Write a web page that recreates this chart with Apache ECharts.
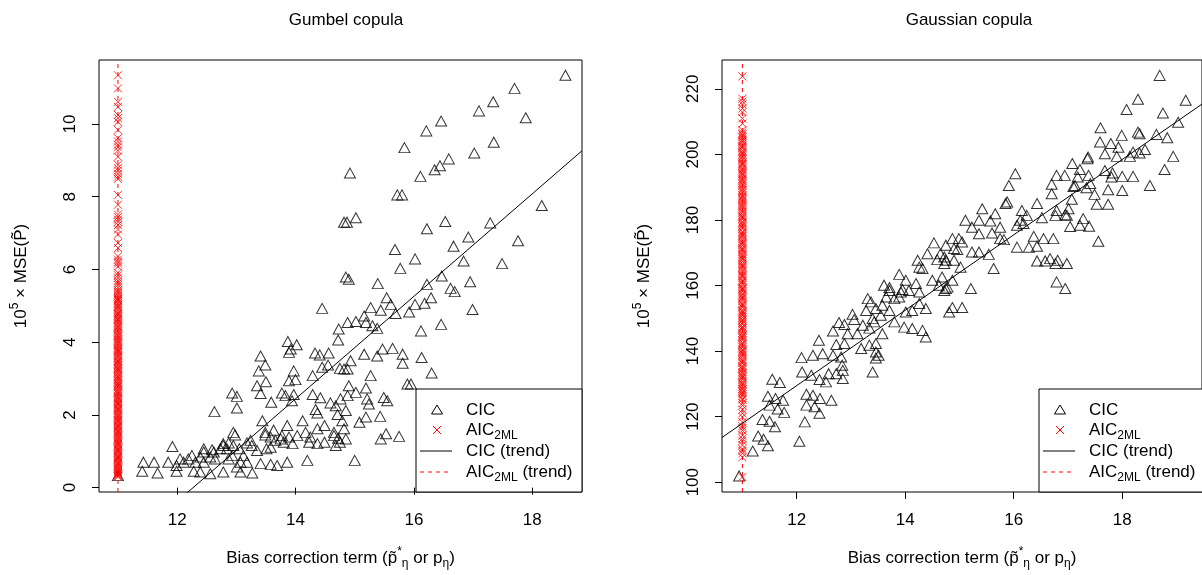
<!DOCTYPE html>
<html>
<head>
<meta charset="utf-8">
<script src="https://cdn.jsdelivr.net/npm/echarts@6.0.0/dist/echarts.min.js"></script>
<style>
html, body { margin: 0; padding: 0; background: #fff; }
#main { width: 1202px; height: 575px; }
</style>
</head>
<body>
<div id="main"></div>
<script>
// bias correction term of AIC2ML is constant
var aicTerm = 11;
var xTicks = [12, 14, 16, 18];
var gumbelYTicks = [0, 2, 4, 6, 8, 10];
var gaussianYTicks = [100, 120, 140, 160, 180, 200, 220];

// Gumbel copula: CIC points [bias term, 1e5 x MSE]
var gumbelCic = [
    [11.0,0.33],[11.43,0.70],[11.41,0.45],[11.61,0.70],[11.67,0.40],[11.85,0.70],[11.92,1.13],
    [11.99,0.61],[11.99,0.45],[12.05,0.79],[12.11,0.70],[12.19,0.79],[12.25,0.88],[12.28,0.45],
    [12.31,0.70],[12.39,0.84],[12.39,0.43],[12.45,0.98],[12.45,0.70],[12.45,1.07],[12.56,0.84],
    [12.56,0.38],[12.59,1.04],[12.62,0.98],[12.64,0.79],[12.63,2.09],[12.73,1.07],[12.78,1.16],
    [12.78,1.21],[12.78,0.43],[12.84,1.07],[12.87,1.23],[12.87,0.79],[12.93,0.88],[12.93,2.60],
    [12.95,1.16],[12.95,1.52],[12.98,1.45],[13.01,2.51],[13.01,2.19],[13.01,0.57],[13.05,1.07],
    [13.07,0.70],[13.07,0.43],[13.12,0.88],[13.18,1.23],[13.18,0.70],[13.24,1.30],[13.26,1.16],
    [13.27,0.40],[13.35,1.02],[13.35,2.80],[13.38,3.21],[13.41,3.62],[13.41,2.59],[13.41,0.66],
    [13.44,1.84],[13.49,1.45],[13.49,1.52],[13.49,3.37],[13.50,2.91],[13.51,1.07],[13.58,1.11],
    [13.58,1.39],[13.58,0.64],[13.59,2.35],[13.63,1.58],[13.66,1.30],[13.69,0.61],[13.75,1.34],
    [13.77,2.60],[13.77,1.43],[13.80,1.25],[13.83,2.53],[13.86,1.71],[13.86,0.70],[13.87,4.02],
    [13.89,3.72],[13.89,2.94],[13.89,1.39],[13.92,3.81],[13.94,2.39],[13.95,1.21],[13.97,3.21],
    [13.97,2.56],[14.00,2.97],[14.02,3.93],[14.03,1.43],[14.12,1.84],[14.17,1.52],[14.20,0.75],
    [14.23,1.25],[14.25,1.39],[14.29,3.08],[14.29,2.56],[14.33,3.70],[14.34,2.15],[14.37,2.05],
    [14.37,1.62],[14.37,1.21],[14.41,3.65],[14.42,2.47],[14.45,4.93],[14.45,3.31],[14.49,1.71],
    [14.49,1.25],[14.55,3.37],[14.56,3.70],[14.59,2.33],[14.65,1.52],[14.65,1.43],[14.68,2.25],
    [14.68,1.16],[14.71,2.01],[14.72,4.06],[14.72,1.36],[14.73,4.36],[14.75,3.28],[14.75,1.25],
    [14.76,2.44],[14.79,1.84],[14.82,7.30],[14.82,3.26],[14.82,1.62],[14.85,5.79],[14.85,2.12],
    [14.85,1.34],[14.87,7.30],[14.88,4.54],[14.88,3.26],[14.88,2.53],[14.90,5.73],[14.90,2.80],
    [14.92,8.65],[14.93,3.49],[15.00,0.75],[15.02,7.42],[15.02,4.57],[15.02,2.62],[15.08,1.80],
    [15.16,4.72],[15.16,3.67],[15.19,4.54],[15.19,2.74],[15.19,1.94],[15.21,2.44],[15.24,2.30],
    [15.27,4.95],[15.27,3.08],[15.30,4.45],[15.38,4.38],[15.38,3.62],[15.39,5.61],[15.43,1.96],
    [15.44,4.88],[15.44,1.34],[15.47,3.81],[15.49,2.48],[15.53,1.48],[15.54,5.22],[15.55,2.39],
    [15.61,5.04],[15.64,3.83],[15.68,6.55],[15.69,4.79],[15.72,8.05],[15.75,1.41],[15.77,6.03],
    [15.80,8.05],[15.81,3.67],[15.81,3.42],[15.84,9.35],[15.89,2.85],[15.92,4.83],[15.95,2.85],
    [16.02,6.29],[16.02,5.04],[16.11,8.56],[16.12,4.31],[16.13,3.58],[16.18,5.07],[16.21,9.81],
    [16.22,7.12],[16.22,5.59],[16.29,5.22],[16.30,3.15],[16.35,8.74],[16.44,8.85],[16.46,10.08],
    [16.46,4.49],[16.47,5.82],[16.53,7.32],[16.59,9.04],[16.62,5.48],[16.67,6.64],[16.69,5.39],
    [16.84,6.23],[16.92,6.89],[16.95,5.66],[16.99,4.90],[17.02,9.20],[17.10,10.36],[17.29,7.28],
    [17.34,10.61],[17.35,9.50],[17.49,6.16],[17.70,10.98],[17.76,6.79],[17.89,10.17],[18.16,7.76],
    [18.56,11.34]
];

// Gumbel copula: AIC2ML values (all at bias term 11)
var gumbelAic = [
    11.34, 10.98, 10.61, 10.47, 10.25, 10.16, 10.06, 9.84, 9.61, 9.52, 9.43, 9.36, 9.27, 9.10,
    8.88, 8.79, 8.72, 8.63, 8.55, 8.49, 8.05, 7.78, 7.51, 7.44, 7.37, 7.31, 7.22, 7.10, 6.96,
    6.73, 6.59, 6.36, 6.27, 6.21, 6.16, 6.08, 5.91, 5.84, 5.77, 5.69, 5.63, 5.57, 5.50, 5.43,
    5.35, 5.27, 5.19, 5.13, 5.04, 4.97, 4.89, 4.80, 4.74, 4.66, 4.61, 4.52, 4.44, 4.38, 4.29,
    4.21, 4.16, 4.07, 4.01, 3.94, 3.85, 3.79, 3.73, 3.64, 3.58, 3.50, 3.45, 3.37, 3.29, 3.24,
    3.16, 3.08, 3.03, 2.95, 2.88, 2.81, 2.76, 2.67, 2.61, 2.53, 2.47, 2.40, 2.33, 2.27, 2.19,
    2.14, 2.06, 1.99, 1.93, 1.86, 1.80, 1.72, 1.66, 1.59, 1.53, 1.46, 1.40, 1.33, 1.27, 1.20,
    1.13, 1.07, 1.01, 0.94, 0.87, 0.81, 0.75, 0.68, 0.61, 0.55, 0.49, 0.43, 0.37, 0.32,
    5.39, 5.31, 5.22, 5.16, 5.08, 5.00, 4.93, 4.85, 4.77, 4.70, 4.63, 4.56, 4.48, 4.41, 4.33,
    4.25, 4.18, 4.11, 4.04, 3.97, 3.90, 3.82, 3.76, 3.69, 3.61, 3.55, 3.48, 3.41, 3.34, 3.27,
    3.20, 3.13, 3.06, 2.99, 2.92, 2.85, 2.79, 2.71, 2.64, 2.58, 2.50, 2.44, 2.37, 2.30, 2.23,
    2.17, 2.10, 2.03, 1.96, 1.90, 1.83, 1.76, 1.69, 1.63, 1.56, 1.49, 1.43, 1.36, 1.30, 1.23,
    1.17, 1.10, 1.04, 0.97, 0.91, 0.84, 0.78, 0.71, 0.65, 0.58, 0.52, 0.46, 0.40, 0.35, 0.30
];

// Gaussian copula: CIC points
var gaussianCic = [
    [10.94,101.9],[11.19,109.5],[11.29,114.1],[11.39,113.1],[11.47,111.1],[11.37,119.1],[11.50,118.6],
    [11.60,116.9],[11.50,123.5],[11.65,122.3],[11.77,121.3],[11.47,126.2],[11.61,125.5],[11.75,125.0],
    [11.55,131.4],[11.69,130.4],[12.05,112.5],[12.15,118.4],[12.18,126.8],[12.30,126.5],[12.43,125.5],
    [12.64,125.0],[12.18,123.5],[12.33,123.0],[12.42,121.0],[12.10,133.6],[12.27,132.6],[12.42,131.3],
    [12.54,130.6],[12.09,138.0],[12.30,138.7],[12.48,139.2],[12.67,138.7],[12.59,133.1],[12.73,133.1],
    [12.85,134.1],[12.85,131.6],[12.41,143.3],[12.67,146.1],[12.73,142.0],[12.88,142.3],[12.82,138.2],
    [12.84,135.7],[12.78,148.7],[12.88,148.1],[13.03,151.2],[13.06,149.6],[13.19,140.8],[13.34,141.8],
    [13.46,142.3],[13.40,133.6],[12.94,145.3],[13.12,145.3],[13.22,147.9],[13.34,147.0],[13.43,148.9],
    [13.58,145.3],[13.46,139.7],[13.51,138.7],[13.46,137.9],[13.28,152.4],[13.40,149.9],[13.55,150.9],
    [13.71,152.4],[13.80,148.9],[13.31,156.0],[13.37,155.0],[13.46,153.0],[13.58,154.0],[13.65,156.5],
    [13.98,147.3],[14.13,146.9],[14.32,146.3],[14.38,144.3],[13.80,156.0],[13.89,156.5],[14.01,151.9],
    [14.13,152.4],[14.26,154.5],[14.38,153.0],[13.71,158.5],[13.92,158.0],[14.07,158.5],[14.26,158.0],
    [14.53,173.0],[14.75,172.3],[14.41,169.7],[14.59,167.9],[14.75,167.7],[14.23,167.7],[14.26,165.6],
    [14.32,165.2],[13.89,163.4],[14.01,161.6],[14.20,160.6],[13.61,160.1],[13.71,159.4],[13.95,158.8],
    [14.50,161.6],[14.68,162.6],[14.62,160.1],[14.75,159.1],[14.81,151.9],[14.72,158.5],[14.87,153.3],
    [15.05,153.3],[18.69,224.1],[18.29,216.8],[19.17,216.5],[18.08,213.7],[18.75,212.6],[19.03,209.8],
    [17.60,208.1],[17.99,205.8],[18.29,206.8],[18.32,206.3],[17.59,203.8],[17.79,203.3],[17.93,202.2],
    [18.63,206.1],[18.83,205.1],[17.68,200.2],[17.90,199.4],[18.14,199.4],[18.20,200.7],[18.42,201.5],
    [18.32,200.4],[18.94,199.4],[18.78,195.4],[18.51,190.5],[17.36,198.7],[17.37,199.2],[17.08,197.2],
    [17.22,195.4],[17.68,195.1],[17.82,194.3],[17.80,193.1],[18.00,193.3],[18.20,193.3],[16.79,193.6],
    [16.94,193.6],[17.18,193.1],[17.38,193.6],[17.41,191.1],[16.70,190.9],[16.70,188.0],[17.10,190.2],
    [17.13,190.5],[17.34,189.8],[17.49,187.8],[17.53,184.8],[17.74,189.2],[17.74,184.8],[18.00,189.0],
    [17.07,186.3],[17.01,183.4],[16.98,181.4],[16.79,182.9],[16.77,181.4],[16.95,181.6],[16.43,185.0],
    [16.52,180.7],[17.28,180.4],[17.22,178.4],[17.39,178.1],[17.04,178.0],[17.56,173.5],[16.03,194.1],
    [15.91,190.5],[15.85,185.0],[15.88,185.5],[15.42,183.4],[15.66,181.9],[15.36,179.9],[15.57,179.7],
    [15.75,177.8],[16.15,182.9],[16.24,181.4],[16.12,179.9],[16.06,178.4],[16.18,178.9],[15.11,179.9],
    [15.23,177.8],[15.36,175.8],[15.60,176.0],[15.75,174.3],[15.82,174.0],[14.87,174.3],[14.99,174.3],
    [15.05,173.3],[14.90,171.3],[14.96,171.0],[14.72,168.7],[14.65,169.7],[16.06,171.7],[16.28,171.7],
    [16.43,172.0],[16.37,175.0],[16.55,174.3],[16.73,174.3],[16.43,167.5],[16.58,167.5],[16.67,168.2],
    [16.77,166.7],[16.81,167.7],[16.98,166.7],[16.79,161.1],[16.95,159.1],[15.21,159.1],[15.63,165.2],
    [15.54,169.5],[15.23,170.2],[15.36,170.2],[14.87,161.6],[14.78,159.5],[15.02,165.6],[14.90,167.7],
    [14.72,166.7]
];

// Gaussian copula: AIC2ML values
var gaussianAic = [
    223.8, 217.0, 216.1, 215.3, 214.0, 212.9, 211.0, 209.4, 207.4, 206.6, 205.7, 204.5, 203.8,
    202.6, 201.9, 200.7, 199.8, 198.9, 197.6, 196.9, 195.8, 194.7, 193.9, 192.6, 191.8, 190.9,
    189.7, 188.8, 187.5, 186.7, 185.8, 184.6, 183.9, 182.7, 181.6, 180.8, 179.5, 178.7, 177.8,
    176.5, 175.6, 174.8, 173.6, 172.7, 171.5, 170.8, 169.6, 168.7, 167.9, 166.6, 165.8, 164.7,
    163.5, 162.8, 161.6, 160.7, 159.5, 158.8, 157.6, 156.7, 155.9, 154.6, 153.8, 152.5, 151.7,
    150.8, 149.6, 148.7, 147.5, 146.8, 145.6, 144.7, 143.9, 142.6, 141.8, 140.5, 139.7, 138.8,
    137.6, 136.7, 135.5, 134.8, 133.6, 132.7, 131.9, 130.6, 129.8, 128.5, 127.7, 126.8, 125.6,
    124.1, 122.1, 119.9, 118.3, 117.1, 115.8, 114.2, 112.6, 111.3, 110.1, 108.8, 107.6, 101.6,
    206.1, 205.2, 204.1, 203.2, 202.3, 201.2, 200.3, 199.3, 198.4, 197.2, 196.4, 195.3, 194.2,
    193.4, 192.2, 191.3, 190.4, 189.2, 188.3, 187.1, 186.3, 185.2, 184.2, 183.3, 182.2, 181.1,
    180.3, 179.1, 178.2, 177.3, 176.1, 175.2, 174.2, 173.1, 172.2, 171.1, 170.2, 169.2, 168.3,
    167.3, 166.2, 165.3, 164.2, 163.1, 162.3, 161.2, 160.2, 159.1, 158.3, 157.2, 156.3, 155.3,
    154.2, 153.3, 152.1, 151.2, 150.2, 149.3, 148.2, 147.1, 146.3, 145.2, 144.3, 143.3, 142.2,
    141.2, 140.1, 139.3, 138.3, 137.2, 136.3, 135.1, 134.3, 133.2, 132.3, 131.3, 130.2, 129.2,
    128.3, 127.3, 126.3, 125.2, 123.4, 121.0, 116.5, 113.3, 109.5
];

// CIC trend lines: [intercept, slope]
var gumbelTrend = [-17.30, 1.41];
var gaussianTrend = [-8.55, 11.5];

var myChart;
var font = '"Liberation Sans", Arimo, Helvetica, Arial, sans-serif';
var crossPath = 'path://M0,0L10,10M0,10L10,0';

// panel ranges (R style 4% padding)
var panels = [
    {title: 'Gumbel copula', left: 99, xMin: 10.68, xMax: 18.84, yMin: -0.12, yMax: 11.76,
     yTicks: gumbelYTicks, cic: gumbelCic, aic: gumbelAic, trend: gumbelTrend},
    {title: 'Gaussian copula', left: 722, xMin: 10.624, xMax: 19.47, yMin: 97, yMax: 228.8,
     yTicks: gaussianYTicks, cic: gaussianCic, aic: gaussianAic, trend: gaussianTrend}
];

var rich = {
    sup: {fontSize: 12, fontFamily: font, color: '#000', verticalAlign: 'top', lineHeight: 12},
    sub: {fontSize: 12, fontFamily: font, color: '#000', verticalAlign: 'bottom', lineHeight: 12}
};

function legendBox(x0, y0) {
    var rows = [21, 41, 62, 83];
    return {
        type: 'group', x: x0, y: y0, z: 100,
        children: [
            {type: 'rect', shape: {x: 0, y: 0, width: 166, height: 103},
             style: {fill: '#fff', stroke: '#000', lineWidth: 1}},
            {type: 'polygon', shape: {points: [[21, rows[0] - 5], [15.5, rows[0] + 4], [26.5, rows[0] + 4]]},
             style: {fill: 'none', stroke: '#000', lineWidth: 1}},
            {type: 'line', shape: {x1: 17, y1: rows[1] - 4, x2: 25, y2: rows[1] + 4}, style: {stroke: '#ff0000', lineWidth: 1}},
            {type: 'line', shape: {x1: 17, y1: rows[1] + 4, x2: 25, y2: rows[1] - 4}, style: {stroke: '#ff0000', lineWidth: 1}},
            {type: 'line', shape: {x1: 4, y1: rows[2], x2: 36, y2: rows[2]}, style: {stroke: '#000', lineWidth: 1}},
            {type: 'line', shape: {x1: 4, y1: rows[3], x2: 36, y2: rows[3]},
             style: {stroke: '#ff0000', lineWidth: 1, lineDash: [4, 4]}},
            {type: 'text', x: 50, y: rows[0], style: {text: 'CIC', font: '17px ' + font, fill: '#000', verticalAlign: 'middle'}},
            {type: 'text', x: 50, y: rows[1], style: {text: 'AIC{sub|2ML}', font: '17px ' + font, fill: '#000',
             verticalAlign: 'middle', lineHeight: 24, rich: rich}},
            {type: 'text', x: 50, y: rows[2], style: {text: 'CIC (trend)', font: '17px ' + font, fill: '#000', verticalAlign: 'middle'}},
            {type: 'text', x: 50, y: rows[3], style: {text: 'AIC{sub|2ML} (trend)', font: '17px ' + font, fill: '#000',
             verticalAlign: 'middle', lineHeight: 24, rich: rich}}
        ]
    };
}

function draw() {
    myChart = echarts.init(document.getElementById('main'));

    var option = {
        animation: false,
        backgroundColor: '#fff',
        title: [],
        grid: [],
        xAxis: [],
        yAxis: [],
        series: [],
        graphic: [legendBox(416, 389), legendBox(1039, 389)]
    };

    panels.forEach(function(p, i) {
        option.title.push({
            text: p.title, left: p.left + 242, top: 7, textAlign: 'center',
            textStyle: {fontSize: 17, fontWeight: 'normal', color: '#000', fontFamily: font}
        });
        option.grid.push({
            left: p.left, top: 60, width: 483, height: 432,
            show: true, borderColor: '#000', borderWidth: 1, backgroundColor: 'transparent'
        });
        option.xAxis.push({
            gridIndex: i, type: 'value', min: p.xMin, max: p.xMax,
            axisLine: {show: false},
            axisTick: {show: true, length: 7, lineStyle: {color: '#000'}, customValues: xTicks},
            axisLabel: {customValues: xTicks, color: '#000', fontSize: 17, fontFamily: font, margin: 20},
            splitLine: {show: false},
            name: 'Bias correction term (p\u0303{sup|*}{sub|\u03b7} or p{sub|\u03b7})',
            nameLocation: 'middle', nameGap: 54,
            nameTextStyle: {fontSize: 17, fontFamily: font, color: '#000', lineHeight: 24, rich: rich}
        });
        option.yAxis.push({
            gridIndex: i, type: 'value', min: p.yMin, max: p.yMax,
            axisLine: {show: false},
            axisTick: {show: true, length: 7, lineStyle: {color: '#000'}, customValues: p.yTicks},
            axisLabel: {customValues: p.yTicks, color: '#000', fontSize: 17, fontFamily: font, margin: 20, rotate: 90},
            splitLine: {show: false},
            name: '10{sup|5} \u00d7 MSE(P\u0303)',
            nameLocation: 'middle', nameGap: 66, nameRotate: 90,
            nameTextStyle: {fontSize: 17, fontFamily: font, color: '#000', lineHeight: 24, rich: rich}
        });

        option.series.push({
            name: 'CIC', type: 'scatter', xAxisIndex: i, yAxisIndex: i,
            data: p.cic, symbol: 'triangle', symbolSize: [11, 10], silent: true,
            itemStyle: {color: 'rgba(0,0,0,0)', borderColor: '#000', borderWidth: 1}
        });
        option.series.push({
            name: 'AIC2ML', type: 'scatter', xAxisIndex: i, yAxisIndex: i,
            data: p.aic.map(function(v) { return [aicTerm, v]; }),
            symbol: crossPath, symbolSize: 8, silent: true,
            itemStyle: {color: 'rgba(0,0,0,0)', borderColor: '#ff0000', borderWidth: 1}
        });
        option.series.push({
            name: 'CIC (trend)', type: 'line', xAxisIndex: i, yAxisIndex: i,
            data: [p.xMin, p.xMax].map(function(x) { return [x, p.trend[0] + p.trend[1] * x]; }),
            symbol: 'none', clip: true, silent: true,
            lineStyle: {color: '#000', width: 1}
        });
        option.series.push({
            name: 'AIC2ML (trend)', type: 'line', xAxisIndex: i, yAxisIndex: i,
            data: [[aicTerm, p.yMin], [aicTerm, p.yMax]],
            symbol: 'none', clip: true, silent: true,
            lineStyle: {color: '#ff0000', width: 1, type: [4, 4]}
        });
    });

    myChart.setOption(option);
}

draw();
</script>
</body>
</html>
